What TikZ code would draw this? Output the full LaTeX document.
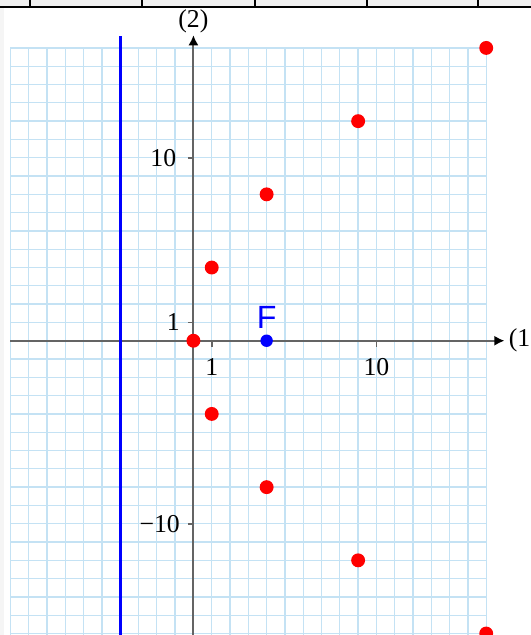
\documentclass[tikz,border=0pt]{standalone}
\usepackage{fontspec}
\setmainfont{Liberation Serif}
\newfontfamily\labelsans{Liberation Sans}
\usetikzlibrary{arrows.meta}
\definecolor{gridBlue}{RGB}{196,226,244}
\definecolor{axisGray}{RGB}{100,100,100}
\definecolor{ptRed}{RGB}{255,0,0}
\tikzset{
    ptNode/.style={
        circle,
        fill=ptRed,
        inner sep=0pt,
        minimum size=3.8mm
    },
    focusNode/.style={
        circle,
        fill=blue,
        inner sep=0pt,
        minimum size=3.4mm
    },
    axisLine/.style={line width=1.6pt, draw=axisGray},
    tickLine/.style={line width=1.2pt, draw=axisGray},
    gridLine/.style={line width=1pt, draw=gridBlue},
    tickLabel/.style={font=\fontsize{20}{23}\selectfont, inner sep=0pt}
}

\begin{document}
\begin{tikzpicture}[x=0.5cm, y=0.5cm, >={Latex[length=2.8mm, width=2.8mm, color=black]}]
    % Frame
    \useasboundingbox (-10.57,-16.08) rectangle (18.44,18.62);
    \clip (-10.57,-16.08) rectangle (18.44,18.62);
    \fill[white] (-10.57,-16.08) rectangle (18.44,18.62);

    % Page remnants
    \fill[gray!12] (-10.57,18.23) rectangle (18.44,18.62);
    \fill[gray!8] (-10.57,-16.08) rectangle (-10.35,18.23);
    \draw[line width=1.5pt] (-10.57,18.23) -- (18.44,18.23);
    \foreach \tx in {-8.93,-2.81,3.36,9.48,15.55}
        \draw[line width=1.5pt] (\tx,18.23) -- (\tx,18.62);

    % Grid
    \foreach \gx in {-10,...,16}
        \draw[gridLine] (\gx,-16.5) -- (\gx,16);
    \foreach \gy in {-16,...,16}
        \draw[gridLine] (-10,\gy) -- (16,\gy);

    % Coordinates
    \coordinate (xStart) at (-10,0);
    \coordinate (xEnd) at (17,0);
    \coordinate (yStart) at (0,-16.5);
    \coordinate (yEnd) at (0,16.7);
    \coordinate (dirTop) at (-4,16.67);
    \coordinate (dirBot) at (-4,-16.5);

    % Axes
    \draw[axisLine, ->] (xStart) -- (xEnd);
    \draw[axisLine, ->] (yStart) -- (yEnd);
    \node[tickLabel, anchor=west] (xName) at (17.22,0) {(1};
    \node[tickLabel] (yName) at (0,17.43) {(2)};

    % Ticks
    \draw[tickLine] (1,0) -- (1,-0.33) node[tickLabel, below=0.3cm] (xOne) {1};
    \draw[tickLine] (10,0) -- (10,-0.33) node[tickLabel, below=0.3cm] (xTen) {10};
    \draw[tickLine] (0,1) -- (-0.3,1) node[tickLabel, left=0.2cm] (yOne) {1};
    \draw[tickLine] (0,10) -- (-0.3,10) node[tickLabel, left=0.3cm] (yTen) {10};
    \draw[tickLine] (0,-10) -- (-0.3,-10) node[tickLabel, left=0.2cm] (yMinusTen) {−10};

    % Directrix
    \draw[blue, line width=2.1pt] (dirBot) -- (dirTop);

    % Points on the curve
    \node[ptNode] (pO) at (0,0) {};
    \node[ptNode] (pA) at (1,4) {};
    \node[ptNode] (pB) at (1,-4) {};
    \node[ptNode] (pC) at (4,8) {};
    \node[ptNode] (pD) at (4,-8) {};
    \node[ptNode] (pE) at (9,12) {};
    \node[ptNode] (pF) at (9,-12) {};
    \node[ptNode] (pG) at (16,16) {};
    \node[ptNode] (pH) at (16,-16) {};

    % Focus
    \node[focusNode] (focus) at (4,0) {};
    \node[font=\labelsans\fontsize{25}{28}\selectfont, text=blue, inner sep=0pt] (focusName) at (4,1.3) {F};
\end{tikzpicture}
\end{document}
